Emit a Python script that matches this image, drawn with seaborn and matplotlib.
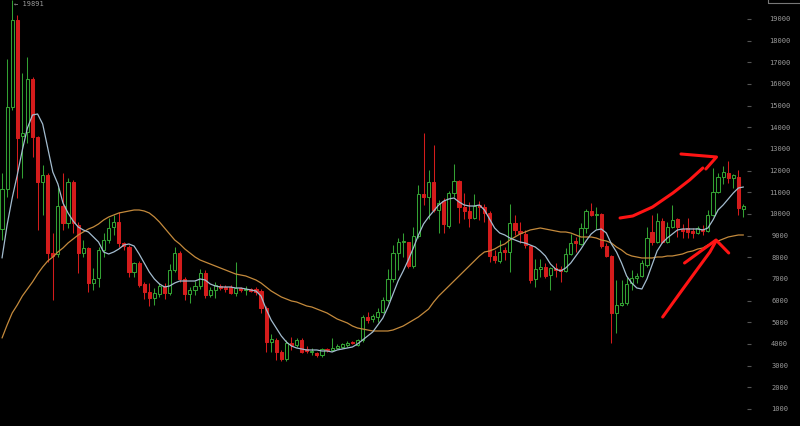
import numpy as np
import pandas as pd
import matplotlib
matplotlib.use("Agg")
import matplotlib.pyplot as plt
from matplotlib.patches import Rectangle
import seaborn as sns


# Weekly candles
opens = [9307, 11153, 14937, 18950, 13600, 13783, 16230, 13553, 11476, 11800,
         8200, 8153, 10368, 9584, 11476, 9490, 8200, 8430, 6815, 7046,
         8338, 8800, 9400, 9630, 8660, 8476, 7322, 7738, 6770, 6400,
         6123, 6300, 6676, 6353, 7415, 8200, 7000, 6307, 6492, 6676,
         7276, 6261, 6492, 6676, 6630, 6630, 6353, 6584, 6492, 6538,
         6538, 6445, 5661, 4092, 4184, 3630, 3307, 4046, 3953, 4184,
         3769, 3630, 3584, 3490, 3769, 3723, 3815, 3861, 3953, 4092,
         3953, 4184, 5246, 5153, 5246, 5476, 6030, 7000, 8200, 8707,
         8707, 7600, 8984, 10922, 10784, 11476, 10184, 10600, 9445, 10968,
         11522, 10322, 10138, 9815, 10415, 10322, 10046, 8060, 7830, 8338,
         8246, 9584, 9215, 9076, 8522, 7000, 7461, 7553, 7184, 7507,
         7461, 7369, 8153, 8753, 8615, 9353, 10138, 9953, 10000, 8522,
         8060, 5430, 5800, 5890, 6815, 7046, 7138, 7646, 9168, 8707,
         9676, 8707, 9400, 9768, 9307, 9353, 9215, 9122, 9307, 9215,
         9953, 11015, 11707, 11891, 11661, 11707, 10230]
highs = [11891, 17152, 19891, 19180, 16500, 17245, 16322, 13600, 12260, 11890,
         9122, 11245, 11891, 11660, 11568, 9630, 8800, 8476, 7507, 8476,
         9122, 9815, 9953, 10092, 8707, 8569, 7784, 7830, 6861, 6815,
         6584, 6815, 6815, 7692, 8476, 8292, 7092, 6630, 6907, 7461,
         7415, 6630, 6861, 6769, 6723, 6723, 7784, 6630, 6676, 6600,
         6630, 6538, 5753, 4461, 4277, 3723, 4184, 4323, 4277, 4277,
         3907, 3815, 3630, 3815, 3815, 4277, 4000, 4046, 4138, 4138,
         4230, 5338, 5476, 5384, 5661, 6169, 7461, 8568, 8892, 9122,
         8707, 9400, 11338, 13738, 12030, 13184, 10645, 10738, 11061, 12307,
         11568, 10968, 10553, 10922, 10600, 10461, 10138, 8338, 8800, 8476,
         10461, 9953, 9630, 9261, 8569, 7923, 7923, 7738, 7553, 7738,
         7600, 8430, 9076, 8938, 9584, 10230, 10507, 10322, 10046, 8661,
         8107, 6953, 6953, 7092, 7415, 7276, 7876, 9400, 9953, 10045,
         9815, 9630, 10415, 9815, 9538, 9815, 9353, 9445, 9492, 10184,
         12122, 11891, 12200, 12445, 11845, 12030, 10461]
lows = [8800, 10784, 14800, 10738, 11660, 13276, 12630, 9260, 9953, 7784,
        6030, 8015, 9260, 9353, 9122, 7276, 8015, 6400, 6492, 6630,
        8015, 8661, 9030, 8476, 8338, 7092, 7092, 6630, 6077, 5753,
        5800, 6169, 6077, 6261, 7322, 6861, 6030, 5892, 6261, 6538,
        6123, 6169, 6123, 6492, 6400, 6307, 6215, 6400, 6261, 6400,
        6261, 5430, 3630, 3630, 3261, 3215, 3215, 3723, 3861, 3584,
        3584, 3492, 3400, 3400, 3630, 3680, 3769, 3815, 3861, 4000,
        3907, 4092, 4969, 5015, 5015, 5430, 5938, 6861, 7415, 8015,
        7507, 7507, 8892, 10415, 9768, 10092, 9122, 9122, 9353, 10784,
        9584, 9768, 9400, 9768, 9722, 9630, 7784, 7738, 7738, 7876,
        7322, 9030, 8661, 8430, 6815, 6630, 7092, 7046, 6492, 7092,
        6861, 7322, 8107, 8246, 8569, 9122, 9907, 9307, 8430, 8015,
        4046, 4507, 5753, 5800, 6492, 6815, 7092, 7553, 8569, 8661,
        8661, 8661, 9353, 8938, 8892, 8892, 8892, 9076, 9030, 9169,
        9907, 10968, 11400, 11430, 11199, 9953, 9861]
closes = [11153, 14937, 18950, 13507, 13740, 16230, 13553, 11476, 11800, 8200,
          8060, 10368, 9584, 11476, 9584, 8200, 8430, 6815, 7000, 8338,
          8800, 9353, 9630, 8660, 8522, 7322, 7738, 6723, 6400, 6123,
          6353, 6676, 6353, 7415, 8200, 7000, 6307, 6492, 6676, 7276,
          6261, 6492, 6723, 6584, 6538, 6353, 6584, 6492, 6538, 6450,
          6400, 5661, 4092, 4230, 3630, 3307, 4046, 3953, 4184, 3630,
          3676, 3676, 3490, 3769, 3723, 3815, 3907, 4000, 4046, 4046,
          4184, 5246, 5107, 5292, 5476, 6030, 7000, 8200, 8707, 8750,
          7600, 8984, 10922, 10784, 11476, 10184, 10507, 9538, 10968, 11522,
          10322, 10138, 9815, 10368, 10322, 10046, 8061, 7876, 8246, 8246,
          9584, 9261, 9122, 8568, 6953, 7461, 7553, 7138, 7507, 7415,
          7369, 8153, 8661, 8660, 9353, 10138, 9953, 10000, 8522, 8060,
          5430, 5800, 5892, 6769, 7046, 7138, 7738, 8892, 8707, 9676,
          8707, 9400, 9722, 9400, 9215, 9168, 9122, 9353, 9215, 9953,
          11015, 11707, 11937, 11661, 11799, 10276, 10368]

# moving averages as drawn (short = light blue, long = orange)
ma_fast = [7969, 9492, 10738, 11799, 12953, 13968, 14568, 14614, 14153, 13045,
           11938, 11384, 10507, 10045, 9676, 9400, 9261, 9169, 8938, 8707,
           8246, 8153, 8246, 8384, 8569, 8615, 8522, 8153, 7738, 7322,
           7000, 6769, 6630, 6676, 6815, 6907, 6907, 6907, 6907, 7000,
           6953, 6769, 6676, 6630, 6630, 6630, 6584, 6584, 6538, 6492,
           6446, 6215, 5615, 5107, 4738, 4369, 4092, 3907, 3815, 3769,
           3723, 3723, 3723, 3677, 3677, 3631, 3723, 3769, 3815, 3861,
           4000, 4184, 4369, 4553, 4877, 5200, 5707, 6307, 6907, 7369,
           7876, 8430, 9030, 9538, 9861, 10138, 10415, 10600, 10692, 10738,
           10553, 10415, 10368, 10368, 10415, 10184, 9768, 9353, 9122, 9030,
           8892, 8800, 8707, 8661, 8569, 8476, 8292, 8061, 7692, 7461,
           7369, 7507, 7738, 8061, 8384, 8753, 9076, 9261, 9307, 9122,
           8615, 8246, 7738, 7138, 6815, 6584, 6538, 7000, 7646, 8292,
           8661, 8892, 9076, 9261, 9307, 9307, 9307, 9307, 9261, 9353,
           9722, 10184, 10415, 10692, 10968, 11199, 11245]
ma_slow = [4277, 4877, 5430, 5800, 6215, 6538, 6861, 7230, 7553, 7830,
           8015, 8246, 8430, 8661, 8846, 9030, 9169, 9307, 9400, 9538,
           9722, 9861, 9953, 10045, 10092, 10138, 10184, 10184, 10138, 10045,
           9861, 9630, 9353, 9076, 8800, 8615, 8384, 8200, 8015, 7876,
           7784, 7692, 7600, 7507, 7415, 7322, 7230, 7184, 7138, 7046,
           6953, 6815, 6630, 6446, 6307, 6169, 6077, 5984, 5938, 5846,
           5754, 5707, 5615, 5523, 5430, 5292, 5153, 5061, 4969, 4830,
           4738, 4692, 4646, 4600, 4600, 4600, 4600, 4646, 4738, 4830,
           4969, 5107, 5246, 5430, 5615, 5938, 6215, 6446, 6676, 6907,
           7138, 7369, 7600, 7830, 8061, 8246, 8292, 8384, 8522, 8615,
           8800, 8938, 9076, 9169, 9261, 9307, 9353, 9307, 9261, 9215,
           9169, 9169, 9122, 9030, 8938, 8938, 8938, 8892, 8800, 8753,
           8661, 8476, 8338, 8153, 8061, 8015, 7969, 7969, 7969, 8015,
           8015, 8061, 8061, 8107, 8153, 8246, 8292, 8384, 8430, 8569,
           8661, 8753, 8846, 8938, 8984, 9030, 9030]

price_ticks = list(range(1000, 20000, 1000))
peak_label = "\u2190 19891"

df = pd.DataFrame({"open": opens, "high": highs, "low": lows, "close": closes,
                   "ma_fast": ma_fast, "ma_slow": ma_slow})
df["week"] = np.arange(len(df))

GREEN = "#33a033"
RED = "#d41c1c"

sns.set_style("dark", {"axes.facecolor": "black", "figure.facecolor": "black"})

fig = plt.figure(figsize=(8, 4.26), dpi=100)
ax = fig.add_axes([0, 0, 747 / 800, 1])

up = df["close"] >= df["open"]
colors = np.where(up, GREEN, RED)

# wicks
ax.vlines(df["week"], df["low"], df["high"], colors=colors, linewidth=0.75, zorder=2)

# bodies: hollow green, filled red
body_low = np.minimum(df["open"], df["close"])
body_h = np.maximum((df["close"] - df["open"]).abs(), 45)
ax.bar(df["week"], body_h, bottom=body_low, width=0.62,
       color=np.where(up, "black", RED), edgecolor=colors, linewidth=0.75, zorder=3)

# moving averages
sns.lineplot(data=df, x="week", y="ma_slow", color="#c48a3c", linewidth=0.9, ax=ax, zorder=4)
sns.lineplot(data=df, x="week", y="ma_fast", color="#a3bccf", linewidth=0.9, ax=ax, zorder=5)

# hand drawn red arrows
strokes = [
    [(121.7, 9815), (124.2, 9907), (128.1, 10322), (132.1, 10968), (135.4, 11568), (138.0, 12122)],
    [(133.7, 12768), (140.7, 12630), (138.6, 12076)],
    [(130.1, 5246), (133.5, 6353), (136.8, 7415), (139.4, 8246), (140.6, 8753)],
    [(134.4, 7738), (140.6, 8800), (143.1, 8200)],
]
for s in strokes:
    xs, ys = zip(*s)
    ax.plot(xs, ys, color="#ff1414", linewidth=2.2, solid_capstyle="round",
            solid_joinstyle="round", zorder=6)

# peak marker label, kept just inside the top edge
ax.text(2.4, 0.998, peak_label, color="#9a9a9a", fontsize=5,
        family="DejaVu Sans Mono", va="top", ha="left", zorder=7,
        transform=ax.get_xaxis_transform())

ax.set_xlim(-0.4, 146.7)
ax.set_ylim(215, 19875)
ax.set_xticks([])
ax.yaxis.tick_right()
ax.set_yticks(price_ticks)
ax.set_yticklabels([str(t) for t in price_ticks])
ax.tick_params(axis="y", direction="out", length=3, width=0.8, color="#555555",
               labelcolor="#9a9a9a", labelsize=5, pad=20.5, right=True, left=False)
for lab in ax.get_yticklabels():
    lab.set_fontfamily("DejaVu Sans Mono")
    lab.set_ha("center")
ax.set_xlabel("")
ax.set_ylabel("")
ax.grid(False)
for sp in ax.spines.values():
    sp.set_visible(False)

fig.patches.append(Rectangle((768 / 800, 1 - 3 / 426), 40 / 800, 0.05,
                             transform=fig.transFigure, fill=False,
                             edgecolor="#777777", linewidth=0.8))

fig.savefig("out.png", dpi=100, facecolor="black")
